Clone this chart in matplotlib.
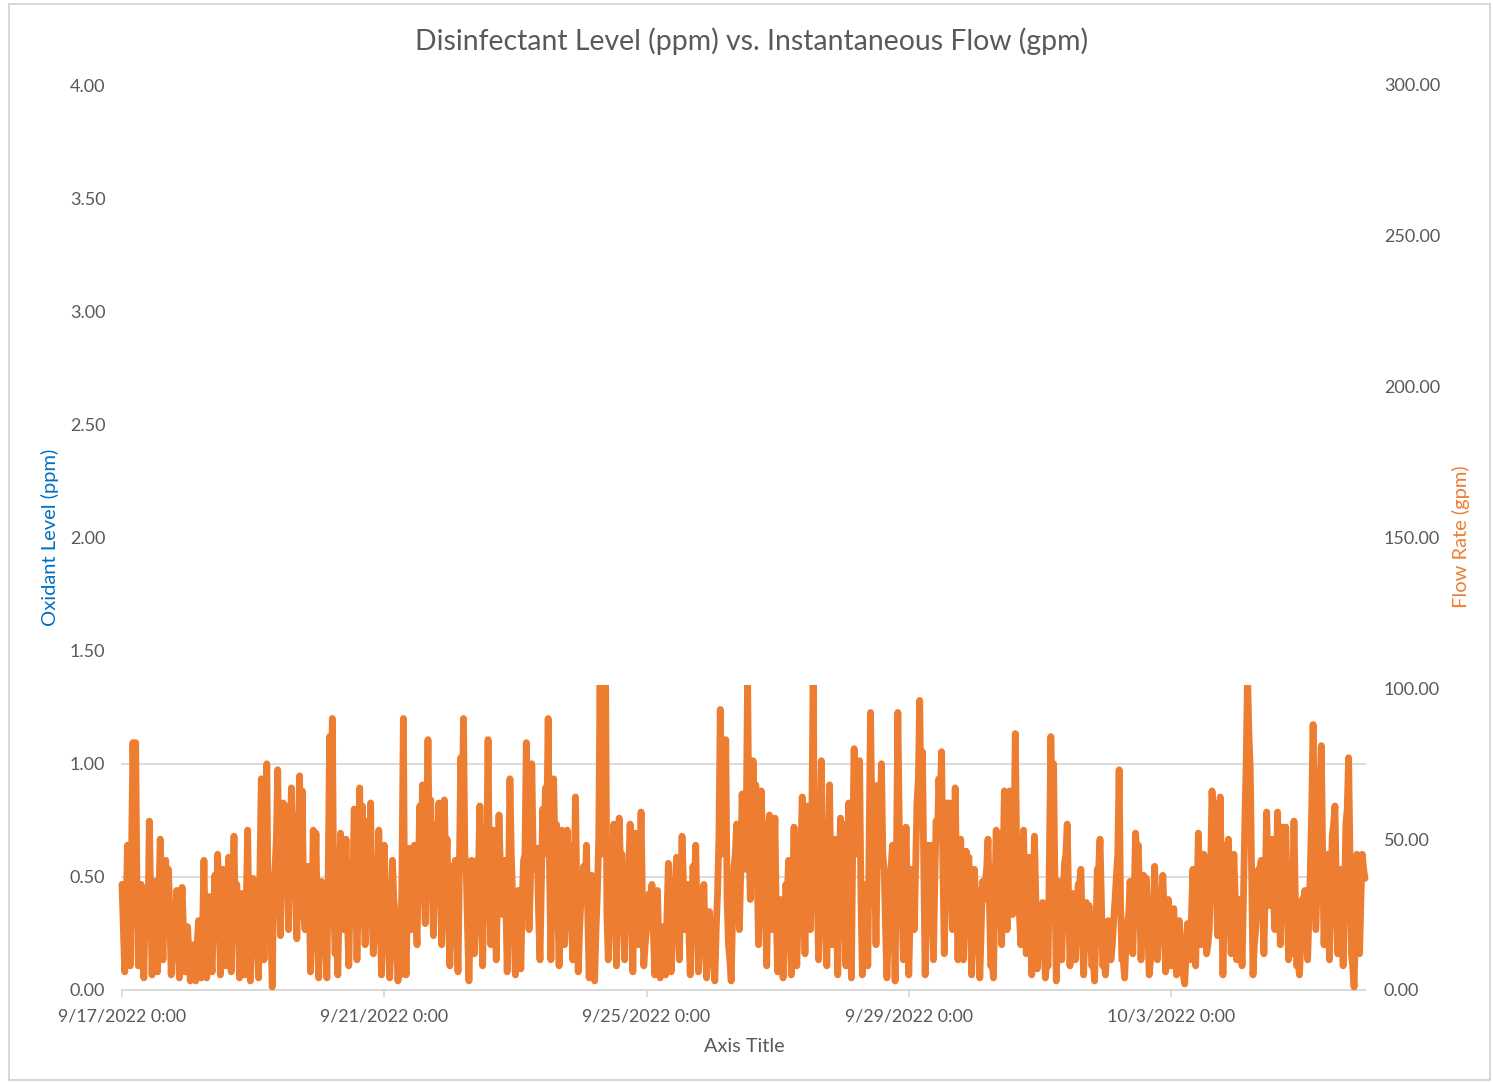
import matplotlib
matplotlib.use("Agg")
import matplotlib.pyplot as plt
import matplotlib.dates as mdates
from matplotlib.patches import Rectangle
from matplotlib.ticker import FixedLocator, FuncFormatter
import pandas as pd

plt.rcParams['font.family'] = ['Lato', 'DejaVu Sans']

title = "Disinfectant Level (ppm) vs. Instantaneous Flow (gpm)"
x_label = "Axis Title"
left_label = "Oxidant Level (ppm)"
right_label = "Flow Rate (gpm)"

start_time = "2022-09-17 00:00"
date_ticks = ["2022-09-17", "2022-09-21", "2022-09-25", "2022-09-29", "2022-10-03"]
ppm_ticks = [0.0, 0.5, 1.0, 1.5, 2.0, 2.5, 3.0, 3.5, 4.0]
gpm_ticks = [0, 50, 100, 150, 200, 250, 300]

# instantaneous flow (gpm) on the hour, one row per day
flow_day01 = [35, 6, 48, 8, 82, 82, 8, 35, 4, 24, 56, 5, 36, 6, 50, 10, 43, 40, 5, 28, 33, 4, 34, 6]
flow_day02 = [21, 3, 15, 3, 23, 4, 43, 4, 31, 6, 38, 45, 5, 40, 8, 44, 6, 51, 35, 4, 32, 5, 53, 3]
flow_day03 = [37, 21, 4, 70, 10, 75, 37, 1, 40, 73, 18, 62, 61, 20, 67, 58, 17, 71, 66, 20, 41, 6, 53, 52]
flow_day04 = [4, 36, 31, 4, 84, 90, 12, 5, 52, 20, 50, 8, 42, 60, 10, 67, 61, 15, 56, 62, 12, 30, 53, 5]
flow_day05 = [48, 15, 4, 43, 25, 3, 5, 90, 5, 47, 20, 48, 15, 61, 68, 22, 83, 63, 18, 55, 62, 15, 63, 50]
flow_day06 = [8, 41, 43, 6, 77, 90, 40, 3, 43, 12, 43, 61, 8, 52, 83, 15, 53, 10, 58, 30, 43, 6, 70, 30]
flow_day07 = [5, 33, 7, 43, 82, 20, 75, 43, 47, 10, 60, 67, 90, 10, 70, 55, 8, 53, 15, 53, 48, 10, 64, 6]
flow_day08 = [30, 41, 48, 4, 38, 3, 32, 102, 60, 106, 10, 35, 55, 8, 57, 45, 10, 40, 55, 6, 52, 15, 59, 8]
flow_day09 = [20, 32, 35, 5, 33, 4, 21, 5, 42, 6, 30, 44, 10, 51, 20, 35, 5, 41, 48, 6, 30, 35, 4, 26]
flow_day10 = [20, 3, 32, 93, 60, 83, 15, 3, 41, 55, 20, 65, 40, 104, 30, 76, 68, 15, 66, 55, 8, 58, 20, 57]
flow_day11 = [6, 30, 4, 35, 43, 5, 54, 8, 40, 64, 12, 61, 20, 105, 50, 10, 76, 25, 8, 68, 15, 50, 5, 57]
flow_day12 = [55, 8, 62, 4, 80, 50, 76, 5, 35, 8, 92, 68, 15, 68, 75, 40, 4, 30, 48, 3, 92, 48, 10, 54]
flow_day13 = [5, 40, 20, 62, 96, 79, 5, 48, 48, 10, 56, 70, 79, 12, 62, 62, 20, 67, 10, 50, 10, 46, 44, 5]
flow_day14 = [40, 33, 4, 36, 36, 50, 8, 4, 53, 52, 15, 66, 20, 66, 25, 85, 30, 15, 53, 12, 44, 5, 51, 7]
flow_day15 = [20, 29, 4, 8, 84, 75, 3, 36, 10, 42, 55, 8, 32, 10, 35, 40, 5, 29, 28, 8, 3, 40, 50, 8]
flow_day16 = [5, 23, 10, 23, 38, 73, 10, 4, 22, 36, 12, 52, 48, 10, 38, 37, 5, 13, 41, 10, 30, 38, 6, 30]
flow_day17 = [8, 27, 5, 23, 6, 2, 22, 10, 40, 8, 52, 15, 45, 12, 20, 66, 62, 18, 64, 5, 48, 50, 12, 45]
flow_day18 = [10, 30, 8, 55, 104, 73, 5, 20, 40, 43, 12, 59, 28, 50, 20, 59, 15, 54, 54, 10, 12, 56, 8, 5]
flow_day19 = [30, 33, 10, 40, 88, 20, 50, 81, 15, 45, 10, 51, 61, 12, 40, 8, 55, 77, 12, 1, 45, 12, 45, 37]

# readings at half past each hour
half_day01 = [20, 25, 30, 45, 60, 30, 20, 15, 30, 20, 30, 20, 25, 30, 25, 30, 20, 25, 15, 20, 15, 25, 20, 15]
half_day02 = [12, 8, 10, 15, 12, 20, 15, 18, 12, 25, 20, 30, 25, 30, 20, 25, 30, 20, 25, 15, 25, 30, 20, 25]
half_day03 = [25, 15, 40, 30, 45, 25, 20, 35, 50, 40, 45, 35, 40, 45, 35, 40, 50, 35, 25, 30, 35, 25, 30, 20]
half_day04 = [25, 20, 15, 40, 55, 30, 20, 30, 35, 30, 25, 30, 35, 40, 30, 35, 30, 40, 35, 25, 20, 35, 25, 20]
half_day05 = [30, 20, 20, 30, 15, 10, 40, 20, 30, 35, 30, 25, 40, 45, 40, 50, 45, 35, 40, 45, 40, 35, 40, 25]
half_day06 = [25, 30, 20, 40, 55, 45, 20, 25, 30, 25, 40, 30, 35, 45, 35, 30, 25, 35, 40, 25, 30, 35, 45, 20]
half_day07 = [20, 15, 30, 45, 40, 35, 45, 40, 25, 35, 45, 55, 40, 35, 45, 30, 30, 35, 30, 35, 25, 35, 30, 20]
half_day08 = [35, 30, 25, 20, 15, 20, 50, 45, 55, 25, 25, 40, 30, 35, 40, 25, 30, 40, 30, 35, 30, 35, 30, 15]
half_day09 = [25, 30, 20, 25, 15, 15, 12, 25, 20, 20, 35, 25, 30, 35, 25, 20, 25, 35, 25, 20, 30, 15, 15, 20]
half_day10 = [10, 20, 50, 45, 50, 30, 10, 25, 45, 35, 40, 45, 55, 50, 45, 55, 40, 45, 50, 25, 35, 40, 35, 25]
half_day11 = [15, 15, 20, 30, 25, 30, 25, 25, 45, 35, 40, 30, 55, 45, 30, 45, 40, 20, 40, 30, 35, 25, 30, 35]
half_day12 = [25, 40, 30, 50, 45, 55, 30, 20, 25, 50, 55, 40, 45, 55, 45, 20, 20, 40, 25, 45, 55, 30, 35, 30]
half_day13 = [25, 30, 40, 70, 60, 40, 30, 40, 30, 35, 50, 60, 40, 35, 45, 40, 45, 35, 30, 30, 30, 40, 25, 20]
half_day14 = [30, 20, 20, 30, 40, 30, 10, 30, 40, 35, 40, 35, 45, 40, 50, 45, 25, 35, 30, 25, 25, 30, 30, 15]
half_day15 = [20, 15, 10, 45, 60, 35, 20, 25, 30, 45, 30, 20, 25, 25, 35, 20, 20, 25, 20, 10, 20, 40, 30, 10]
half_day16 = [15, 15, 15, 30, 45, 30, 10, 15, 25, 25, 30, 45, 30, 25, 35, 20, 10, 25, 25, 20, 30, 25, 15, 20]
half_day17 = [15, 15, 15, 15, 5, 12, 15, 25, 20, 30, 30, 30, 25, 15, 40, 55, 40, 35, 30, 25, 45, 30, 25, 30]
half_day18 = [20, 20, 30, 75, 85, 40, 15, 30, 40, 30, 35, 40, 35, 30, 35, 35, 35, 50, 30, 15, 30, 30, 10, 15]
half_day19 = [30, 20, 25, 60, 55, 35, 65, 45, 30, 30, 30, 55, 35, 25, 25, 30, 60, 45, 8, 20, 25, 30, 40]

flow_hour = (flow_day01 + flow_day02 + flow_day03 + flow_day04 + flow_day05 + flow_day06
             + flow_day07 + flow_day08 + flow_day09 + flow_day10 + flow_day11 + flow_day12
             + flow_day13 + flow_day14 + flow_day15 + flow_day16 + flow_day17 + flow_day18
             + flow_day19)
flow_half = (half_day01 + half_day02 + half_day03 + half_day04 + half_day05 + half_day06
             + half_day07 + half_day08 + half_day09 + half_day10 + half_day11 + half_day12
             + half_day13 + half_day14 + half_day15 + half_day16 + half_day17 + half_day18
             + half_day19)

# merge into one 30-minute series
flow_gpm = []
for i, v in enumerate(flow_hour):
    flow_gpm.append(v)
    if i < len(flow_half):
        flow_gpm.append(flow_half[i])
times = pd.date_range(start_time, periods=len(flow_gpm), freq="30min")

TEXT = "#595959"
GRID = "#d9d9d9"
ORANGE = "#ED7D31"
BLUE = "#0070C0"

W, H = 1493, 1082
fig = plt.figure(figsize=(W / 100, H / 100), dpi=100)
fig.patch.set_facecolor("white")

# chart frame
fig.patches.append(Rectangle((9 / W, 2 / H), (W - 12) / W, (H - 6) / H,
                             transform=fig.transFigure, fill=False,
                             edgecolor="#d0d0d0", linewidth=1.2))

left, right, top, bottom = 122, 1365, 85, 990
ax = fig.add_axes([left / W, 1 - bottom / H, (right - left) / W, (bottom - top) / H])
ax2 = ax.twinx()

ax.set_ylim(ppm_ticks[0], ppm_ticks[-1])
ax2.set_ylim(gpm_ticks[0], gpm_ticks[-1])
ax.set_xlim(times[0], times[-1])

line, = ax2.plot(times, flow_gpm, color=ORANGE, linewidth=4.9,
                 solid_joinstyle="round", solid_capstyle="round", zorder=3)

x0 = mdates.date2num(times[0]) - 5
xw = mdates.date2num(times[-1]) - mdates.date2num(times[0]) + 10

# the plot region above ~100 gpm is blanked out
blank = Rectangle((x0, -50), xw, 151, transform=ax2.transData,
                  facecolor="none", edgecolor="none")
ax2.add_patch(blank)
line.set_clip_path(blank)

# horizontal gridlines (primary axis), hidden in the blanked region
ax.yaxis.set_major_locator(FixedLocator(ppm_ticks))
ax.yaxis.set_major_formatter(FuncFormatter(lambda v, p: f"{v:.2f}"))
ax.grid(axis="y", color=GRID, linewidth=1.3)
ax.set_axisbelow(True)
for gl in ax.get_ygridlines():
    gl.set_clip_path(Rectangle((x0, -1), xw, 1 + 101 / 75, transform=ax.transData))

ax2.yaxis.set_major_locator(FixedLocator(gpm_ticks))
ax2.yaxis.set_major_formatter(FuncFormatter(lambda v, p: f"{v:.2f}"))

ax.xaxis.set_major_locator(FixedLocator(mdates.date2num(pd.to_datetime(date_ticks))))

def date_label(v, pos):
    d = mdates.num2date(v)
    return f"{d.month}/{d.day}/{d.year} 0:00"

ax.xaxis.set_major_formatter(FuncFormatter(date_label))

for a in (ax, ax2):
    for s in a.spines.values():
        s.set_visible(False)
    a.set_facecolor("none")
ax.spines["bottom"].set_visible(True)
ax.spines["bottom"].set_color(GRID)
ax.spines["bottom"].set_linewidth(1.3)

ax.tick_params(axis="y", length=0, pad=12, labelsize=13, labelcolor=TEXT)
ax2.tick_params(axis="y", length=0, pad=13.5, labelsize=13, labelcolor=TEXT)
ax.tick_params(axis="x", length=5, width=1.3, color=GRID, pad=8,
               labelsize=12.8, labelcolor=TEXT)

fig.text(744 / W, 1 - 1047 / H, x_label, ha="center", va="center",
         fontsize=14.3, color=TEXT)
fig.text(50 / W, 1 - 537 / H, left_label, ha="center", va="center",
         rotation=90, fontsize=14.5, color=BLUE)
fig.text(1461 / W, 1 - 537 / H, right_label, ha="center", va="center",
         rotation=90, fontsize=14.5, color=ORANGE)
fig.text(752 / W, 1 - 41 / H, title, ha="center", va="center",
         fontsize=20.4, color=TEXT)

fig.savefig("out.png", dpi=100, facecolor="white")
